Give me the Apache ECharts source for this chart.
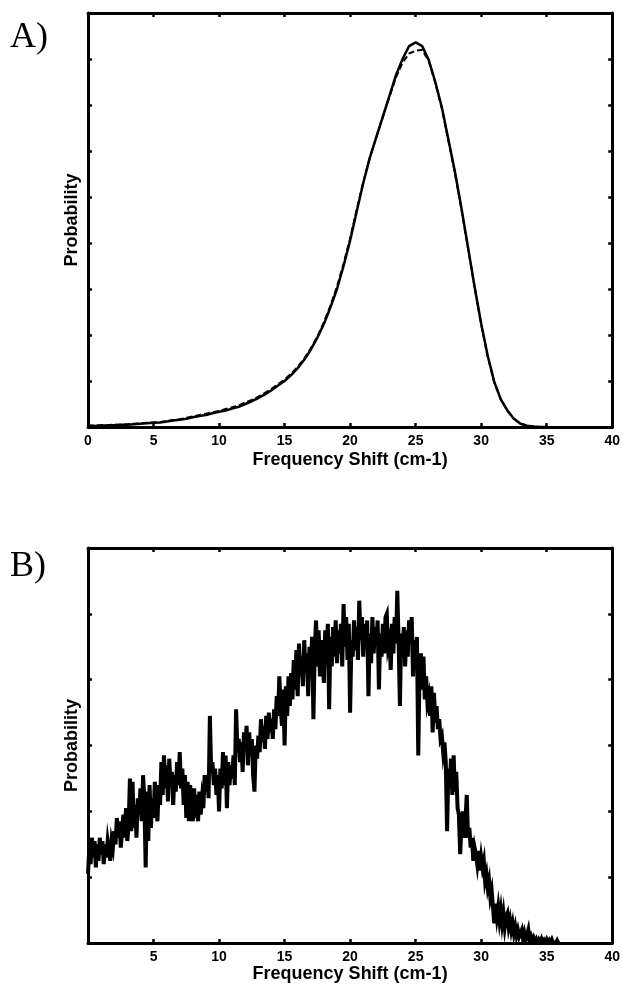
<!DOCTYPE html>
<html>
<head>
<meta charset="utf-8">
<script src="https://cdn.jsdelivr.net/npm/echarts@6/dist/echarts.min.js"></script>
<style>
html,body{margin:0;padding:0;background:#fff;}
#chart{width:623px;height:984px;}
</style>
</head>
<body>
<div id="chart"></div>
<script>
// ---- Data ----
const xTicks = [0, 5, 10, 15, 20, 25, 30, 35, 40];
const xAxisName = 'Frequency Shift (cm-1)';
const yAxisName = 'Probability';
const panelLabels = ['A)', 'B)'];

// Panel A: frequency grid step 0.5 from 0 to 35
const aStep = 0.5;
const aSolid = [
  0.02,0.02,0.03,0.03,0.04,0.05,0.05,0.06,0.07,0.08,
  0.09,0.10,0.12,0.14,0.16,0.18,0.21,0.24,0.26,0.30,
  0.33,0.36,0.40,0.44,0.50,0.56,0.63,0.71,0.80,0.90,
  1.00,1.13,1.28,1.46,1.68,1.94,2.24,2.60,3.00,3.50,
  4.05,4.68,5.30,5.85,6.30,6.75,7.20,7.65,8.00,8.28,
  8.36,8.28,7.98,7.50,6.95,6.25,5.55,4.75,3.90,3.05,
  2.25,1.55,0.98,0.60,0.36,0.18,0.07,0.03,0.01,0.00,
  0.00
];
const aDashed = [
  0.03,0.03,0.04,0.04,0.05,0.05,0.06,0.07,0.08,0.09,
  0.10,0.11,0.13,0.15,0.17,0.20,0.23,0.26,0.29,0.32,
  0.35,0.39,0.43,0.47,0.53,0.59,0.66,0.74,0.83,0.93,
  1.03,1.16,1.31,1.49,1.71,1.97,2.28,2.64,3.05,3.55,
  4.10,4.72,5.32,5.85,6.30,6.74,7.18,7.60,7.92,8.12,
  8.18,8.20,7.95,7.48,6.92,6.22,5.52,4.72,3.88,3.03,
  2.23,1.53,0.97,0.60,0.36,0.18,0.07,0.03,0.01,0.00,
  0.00
];

// Panel B: frequency grid step 0.1 from 0 to 36
const bStep = 0.1;
const bValues = [
  1.05,1.45,1.20,1.60,1.30,1.55,1.15,1.50,1.25,1.60,
  1.35,1.55,1.20,1.50,1.30,1.55,1.40,1.25,1.55,1.45,
  1.70,1.50,1.90,1.60,1.85,1.45,1.70,1.95,1.60,2.05,
  1.55,1.80,2.50,1.70,2.45,1.75,2.10,1.60,2.20,1.95,
  2.35,1.85,2.55,2.20,1.15,2.30,1.55,2.40,1.75,2.20,
  1.90,2.45,2.05,1.85,2.40,2.10,2.75,2.25,2.85,2.35,
  2.70,2.15,2.80,2.40,2.60,2.10,2.55,2.30,2.75,2.40,
  2.90,2.35,2.65,2.10,2.55,1.90,2.45,1.85,2.40,2.00,
  1.85,2.35,1.90,2.25,1.85,2.30,1.95,2.20,2.05,2.55,
  2.30,2.55,2.20,3.45,2.60,2.75,2.40,2.65,2.25,2.55,
  2.00,2.65,2.35,2.90,2.40,2.85,2.05,2.75,2.40,2.70,
  2.50,2.85,2.40,3.55,2.95,3.10,2.75,3.05,2.60,3.20,
  2.95,3.30,2.70,3.20,2.85,3.10,2.55,2.30,3.00,2.80,
  3.15,2.90,3.40,3.05,3.30,2.95,3.45,3.10,3.50,3.20,
  3.40,3.10,3.55,3.25,3.75,3.45,4.05,3.60,3.30,3.85,
  3.00,3.90,3.45,4.05,3.60,4.10,3.70,4.30,3.85,4.45,
  3.75,4.55,4.05,4.35,3.90,4.60,4.10,4.40,3.75,4.50,
  4.15,4.65,3.40,4.45,4.90,4.20,4.75,4.05,4.60,4.30,
  3.95,4.75,4.30,4.85,3.55,4.65,4.20,4.80,4.35,4.90,
  4.25,4.75,4.40,4.85,4.20,5.15,4.50,4.95,4.30,4.85,
  3.50,4.60,4.35,4.90,4.45,4.80,4.30,5.20,4.60,4.95,
  4.35,4.85,4.50,4.90,3.75,4.70,4.25,4.95,4.40,4.80,
  4.55,4.90,3.85,4.70,4.35,4.85,4.40,4.95,5.00,4.50,
  4.60,4.15,4.85,4.40,4.95,4.55,5.35,4.60,3.60,4.70,
  4.45,4.80,4.20,4.75,4.35,4.90,4.55,4.95,4.05,4.60,
  4.40,4.65,2.85,4.15,4.40,3.85,4.35,3.70,4.05,3.65,
  3.75,3.45,3.90,3.20,3.80,3.35,3.60,3.25,3.40,3.10,
  3.15,2.90,3.05,2.75,1.70,2.65,2.40,2.80,2.25,2.85,
  2.30,2.60,2.05,1.95,1.35,1.80,2.00,1.60,1.85,2.25,
  1.60,1.75,1.45,1.60,1.25,1.45,1.35,1.20,1.40,1.10,
  1.30,1.15,1.25,0.95,1.05,0.85,0.95,0.70,0.80,0.55,
  0.30,0.60,0.40,0.55,0.35,0.50,0.30,0.45,0.25,0.40,
  0.45,0.25,0.35,0.20,0.30,0.15,0.25,0.12,0.20,0.10,
  0.12,0.20,0.06,0.15,0.05,0.12,0.20,0.05,0.10,0.03,
  0.08,0.02,0.06,0.00,0.05,0.01,0.06,0.00,0.04,0.00,
  0.05,0.00,0.04,0.00,0.05,0.00,0.03,0.00,0.04,0.00,
  0.00
];

// ---- Chart ----
const FONT = '"Liberation Sans", Arial, Helvetica, sans-serif';
const black = '#000';

const gridsCfg = [
  {left: 88, top: 13, width: 528, height: 414, ymax: 9, nameGapX: 24},
  {left: 88, top: 548, width: 525, height: 396, ymax: 6, nameGapX: 21}
];

const xAxes = [];
const yAxes = [];
gridsCfg.forEach((g, gi) => {
  const axisLine = {show: true, onZero: false, lineStyle: {color: black, width: 3}};
  const axisTick = {show: true, inside: true, length: 4, lineStyle: {color: black, width: 2.5}};
  xAxes.push({
    gridIndex: gi, type: 'value', position: 'bottom',
    min: xTicks[0], max: xTicks[xTicks.length - 1], interval: xTicks[1] - xTicks[0],
    axisLine, axisTick, splitLine: {show: false},
    axisLabel: {
      color: black, fontSize: 14, fontWeight: 'bold', fontFamily: FONT, margin: 7,
      formatter: (v) => (gi === 1 && v === 0) ? '' : String(v)
    },
    name: xAxisName, nameLocation: 'middle', nameGap: g.nameGapX,
    nameTextStyle: {color: black, fontSize: 18, fontWeight: 'bold', fontFamily: FONT}
  });
  xAxes.push({
    gridIndex: gi, type: 'value', position: 'top',
    min: xTicks[0], max: xTicks[xTicks.length - 1], interval: xTicks[1] - xTicks[0],
    axisLine, axisTick, splitLine: {show: false}, axisLabel: {show: false}
  });
  yAxes.push({
    gridIndex: gi, type: 'value', position: 'left',
    min: 0, max: g.ymax, interval: 1,
    axisLine, axisTick, splitLine: {show: false}, axisLabel: {show: false},
    name: yAxisName, nameLocation: 'middle', nameGap: 7,
    nameTextStyle: {color: black, fontSize: 18, fontWeight: 'bold', fontFamily: FONT}
  });
  yAxes.push({
    gridIndex: gi, type: 'value', position: 'right',
    min: 0, max: g.ymax, interval: 1,
    axisLine, axisTick, splitLine: {show: false}, axisLabel: {show: false}
  });
});

const toPairs = (vals, step) => vals.map((v, i) => [Math.round(i * step * 100) / 100, v]);

const option = {
  animation: false,
  backgroundColor: '#fff',
  grid: gridsCfg.map(g => ({left: g.left, top: g.top, width: g.width, height: g.height, containLabel: false})),
  xAxis: xAxes,
  yAxis: yAxes,
  graphic: [
    {type: 'text', left: 10, top: 20, style: {text: panelLabels[0], font: '36px "Liberation Serif", "Times New Roman", serif', fill: black}},
    {type: 'text', left: 10, top: 549, style: {text: panelLabels[1], font: '36px "Liberation Serif", "Times New Roman", serif', fill: black}}
  ],
  series: [
    {type: 'line', xAxisIndex: 0, yAxisIndex: 0, data: toPairs(aDashed, aStep), symbol: 'none',
     lineStyle: {color: black, width: 2, type: [6, 3]}},
    {type: 'line', xAxisIndex: 0, yAxisIndex: 0, data: toPairs(aSolid, aStep), symbol: 'none',
     lineStyle: {color: black, width: 2.5}},
    {type: 'line', xAxisIndex: 2, yAxisIndex: 2, data: toPairs(bValues, bStep), symbol: 'none',
     lineStyle: {color: black, width: 4, join: 'miter'}}
  ]
};

const chart = echarts.init(document.getElementById('chart'), null, {renderer: 'canvas'});
chart.setOption(option);
</script>
</body>
</html>
